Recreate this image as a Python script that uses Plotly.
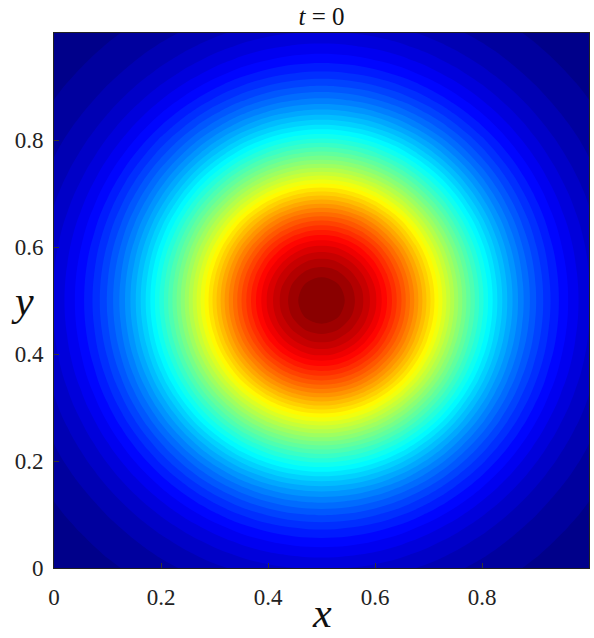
import plotly.graph_objects as go
import numpy as np

# grid positions (x and y), step 0.025
grid = [round(0.025 * i, 3) for i in range(41)]

# field value read along the midlines through the centre (normalised, peak = 1)
x_midline = [0.082, 0.105, 0.132, 0.164, 0.202, 0.245, 0.294, 0.348, 0.407, 0.469,
             0.535, 0.603, 0.670, 0.736, 0.799, 0.855, 0.905, 0.945, 0.975, 0.994,
             1.000,
             0.994, 0.975, 0.945, 0.905, 0.855, 0.799, 0.736, 0.670, 0.603, 0.535,
             0.469, 0.407, 0.348, 0.294, 0.245, 0.202, 0.164, 0.132, 0.105, 0.082]
y_midline = list(x_midline)

tick_vals = [0, 0.2, 0.4, 0.6, 0.8]
tick_text = ['0', '0.2', '0.4', '0.6', '0.8']

# separable initial condition: u(x, y) = g(x) * g(y)
u0 = np.outer(y_midline, x_midline)

jet = [[0.0, 'rgb(0,0,128)'], [0.125, 'rgb(0,0,255)'], [0.375, 'rgb(0,255,255)'],
       [0.625, 'rgb(255,255,0)'], [0.875, 'rgb(255,0,0)'], [1.0, 'rgb(128,0,0)']]

serif = 'Times New Roman, Liberation Serif, serif'

fig = go.Figure()
fig.add_trace(go.Contour(
    x=grid, y=grid, z=u0,
    colorscale=jet, zmin=0, zmax=1,
    contours=dict(start=0, end=1, size=0.02, coloring='fill', showlines=False),
    line=dict(width=0),
    showscale=False, hoverinfo='skip'
))

axis_style = dict(range=[0, 1], tickvals=tick_vals, ticktext=tick_text,
                  ticks='inside', ticklen=5, tickwidth=1, tickcolor='#333',
                  showline=True, mirror=True, linecolor='#222', linewidth=1,
                  showgrid=False, zeroline=False, automargin=False,
                  tickfont=dict(family=serif, size=23, color='#222'))

fig.update_xaxes(**axis_style, ticklabelstandoff=8)
fig.update_yaxes(**axis_style, ticklabelstandoff=5)

fig.update_layout(
    width=594, height=638,
    margin=dict(l=54, r=5, t=33, b=70, autoexpand=False),
    paper_bgcolor='white', plot_bgcolor='white',
    title=dict(text='<i>t</i> = 0', x=0.5, xref='paper', y=0.975, yref='container',
               yanchor='middle', automargin=False,
               font=dict(family=serif, size=25, color='#111')),
    annotations=[
        dict(text='<i>x</i>', x=0.5, y=-0.1295, xref='paper', yref='paper',
             showarrow=False, yanchor='bottom', borderpad=0,
             font=dict(family=serif, size=42, color='#111')),
        dict(text='<i>y</i>', x=-0.058, y=0.5, xref='paper', yref='paper',
             showarrow=False, xanchor='center', yanchor='middle',
             font=dict(family=serif, size=42, color='#111')),
    ]
)

# drop the default page margin so the figure sits at the window's top-left
fix_page = ("document.body.style.margin='0';"
            "var gd=document.getElementById('{plot_id}');"
            "Plotly.relayout(gd,{width:594,height:638});")

fig.write_html("out.html", post_script=fix_page, config={'displayModeBar': False})
